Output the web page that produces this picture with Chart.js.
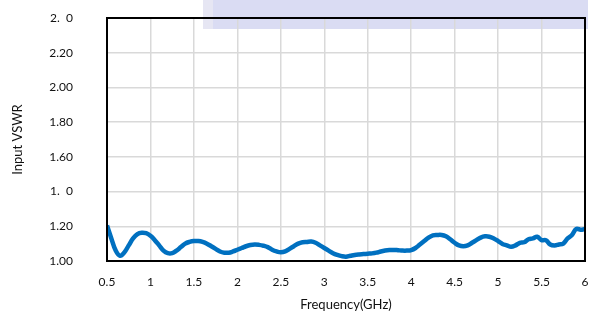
<!DOCTYPE html>
<html>
<head>
<meta charset="utf-8">
<script src="https://cdn.jsdelivr.net/npm/chart.js@4.4.0/dist/chart.umd.min.js"></script>
<style>
  html, body { margin: 0; padding: 0; background: #fff; }
  #wrap { width: 591px; height: 313px; position: relative; }
</style>
</head>
<body>
<div id="wrap"><canvas id="chart"></canvas></div>
<script>
// Frequency points (GHz) and measured input VSWR
const freqs = [
  0.50, 0.55, 0.60, 0.65, 0.70, 0.75, 0.80, 0.85, 0.90, 0.95,
  1.00, 1.05, 1.10, 1.15, 1.20, 1.25, 1.30, 1.35, 1.40, 1.45,
  1.50, 1.55, 1.60, 1.65, 1.70, 1.75, 1.80, 1.85, 1.90, 1.95,
  2.00, 2.05, 2.10, 2.15, 2.20, 2.25, 2.30, 2.35, 2.40, 2.45,
  2.50, 2.55, 2.60, 2.65, 2.70, 2.75, 2.80, 2.85, 2.90, 2.95,
  3.00, 3.05, 3.10, 3.15, 3.20, 3.25, 3.30, 3.35, 3.40, 3.45,
  3.50, 3.55, 3.60, 3.65, 3.70, 3.75, 3.80, 3.85, 3.90, 3.95,
  4.00, 4.05, 4.10, 4.15, 4.20, 4.25, 4.30, 4.35, 4.40, 4.45,
  4.50, 4.55, 4.60, 4.65, 4.70, 4.75, 4.80, 4.85, 4.90, 4.95,
  5.00, 5.05, 5.10, 5.15, 5.20, 5.25, 5.30, 5.35, 5.40, 5.45,
  5.50, 5.55, 5.60, 5.65, 5.70, 5.75, 5.80, 5.85, 5.90, 5.95,
  6.00
];
const vswr = [
  1.205, 1.130, 1.060, 1.030, 1.050, 1.090, 1.130, 1.155, 1.163, 1.160,
  1.145, 1.120, 1.090, 1.060, 1.045, 1.045, 1.060, 1.080, 1.100, 1.110,
  1.115, 1.115, 1.110, 1.100, 1.085, 1.070, 1.055, 1.048, 1.048, 1.055,
  1.065, 1.075, 1.085, 1.092, 1.095, 1.093, 1.088, 1.080, 1.065, 1.055,
  1.050, 1.055, 1.070, 1.085, 1.100, 1.108, 1.110, 1.112, 1.105, 1.090,
  1.075, 1.060, 1.045, 1.035, 1.028, 1.025, 1.030, 1.035, 1.038, 1.040,
  1.042, 1.044, 1.048, 1.055, 1.060, 1.063, 1.064, 1.062, 1.060, 1.060,
  1.063, 1.075, 1.095, 1.115, 1.135, 1.148, 1.150, 1.150, 1.142, 1.125,
  1.105, 1.090, 1.085, 1.090, 1.105, 1.120, 1.135, 1.142, 1.140, 1.130,
  1.115, 1.098, 1.090, 1.082, 1.090, 1.105, 1.108, 1.125, 1.130, 1.140,
  1.120, 1.120, 1.095, 1.090, 1.095, 1.100, 1.130, 1.150, 1.185, 1.180,
  1.185
];

// Tick labels as printed on the chart
const xTickLabels = ['0.5', '1', '1.5', '2', '2.5', '3', '3.5', '4', '4.5', '5', '5.5', '6'];
const yTickLabels = ['1.00', '1.20', '1.  0', '1.60', '1.80', '2.00', '2.20', '2.  0'];

const font = "Lato, 'Open Sans', sans-serif";

// lavender patch at the top and the black frame round the plot
const decorPlugin = {
  id: 'decor',
  beforeDraw(chart) {
    const ctx = chart.ctx;
    ctx.save();
    ctx.fillStyle = '#dadcf3';
    ctx.fillRect(203, 0, 385, 29);
    ctx.fillStyle = '#e6e6f3';
    ctx.fillRect(203, 0, 10, 29);
    ctx.restore();
  },
  afterDraw(chart) {
    const a = chart.chartArea;
    const ctx = chart.ctx;
    ctx.save();
    ctx.strokeStyle = '#000';
    ctx.lineWidth = 2;
    ctx.strokeRect(a.left, a.top, a.right - a.left, a.bottom - a.top);
    ctx.restore();
  }
};

new Chart(document.getElementById('chart'), {
  type: 'line',
  data: {
    datasets: [{
      data: freqs.map((f, i) => ({ x: f, y: vswr[i] })),
      borderColor: '#0070c0',
      borderWidth: 4.5,
      pointRadius: 0,
      tension: 0.4,
      fill: false
    }]
  },
  options: {
    responsive: true,
    maintainAspectRatio: false,
    animation: false,
    layout: { padding: { left: 10, right: 6, top: 18, bottom: 0 } },
    plugins: {
      legend: { display: false },
      tooltip: { enabled: false }
    },
    scales: {
      x: {
        type: 'linear',
        min: 0.5,
        max: 6,
        afterBuildTicks(scale) {
          scale.ticks = xTickLabels.map(t => ({ value: parseFloat(t) }));
        },
        ticks: {
          callback: (v, i) => xTickLabels[i],
          color: '#111',
          padding: 14,
          maxRotation: 0,
          font: { family: font, size: 12 }
        },
        grid: { color: '#d9d9d9', lineWidth: 1.5, drawTicks: false },
        border: { display: false },
        title: {
          display: true,
          text: 'Frequency(GHz)',
          color: '#111',
          padding: { top: 5, bottom: 0 },
          font: { family: font, size: 13 }
        },
        afterFit(scale) {
          scale.height = 52;
          scale.paddingLeft = 0;
          scale.paddingRight = 0;
        }
      },
      y: {
        min: 1,
        max: 2.4,
        afterBuildTicks(scale) {
          scale.ticks = yTickLabels.map((t, i) => ({ value: 1 + i * 0.2 }));
        },
        ticks: {
          callback: (v, i) => yTickLabels[i],
          color: '#111',
          padding: 34,
          font: { family: font, size: 12 }
        },
        grid: { color: '#d9d9d9', lineWidth: 1.5, drawTicks: false },
        border: { display: false },
        title: {
          display: true,
          text: 'Input VSWR',
          color: '#111',
          padding: 0,
          font: { family: font, size: 13 }
        },
        afterFit(scale) {
          scale.width = 97;
          scale.paddingTop = 0;
          scale.paddingBottom = 0;
        }
      }
    }
  },
  plugins: [decorPlugin]
});
</script>
</body>
</html>
